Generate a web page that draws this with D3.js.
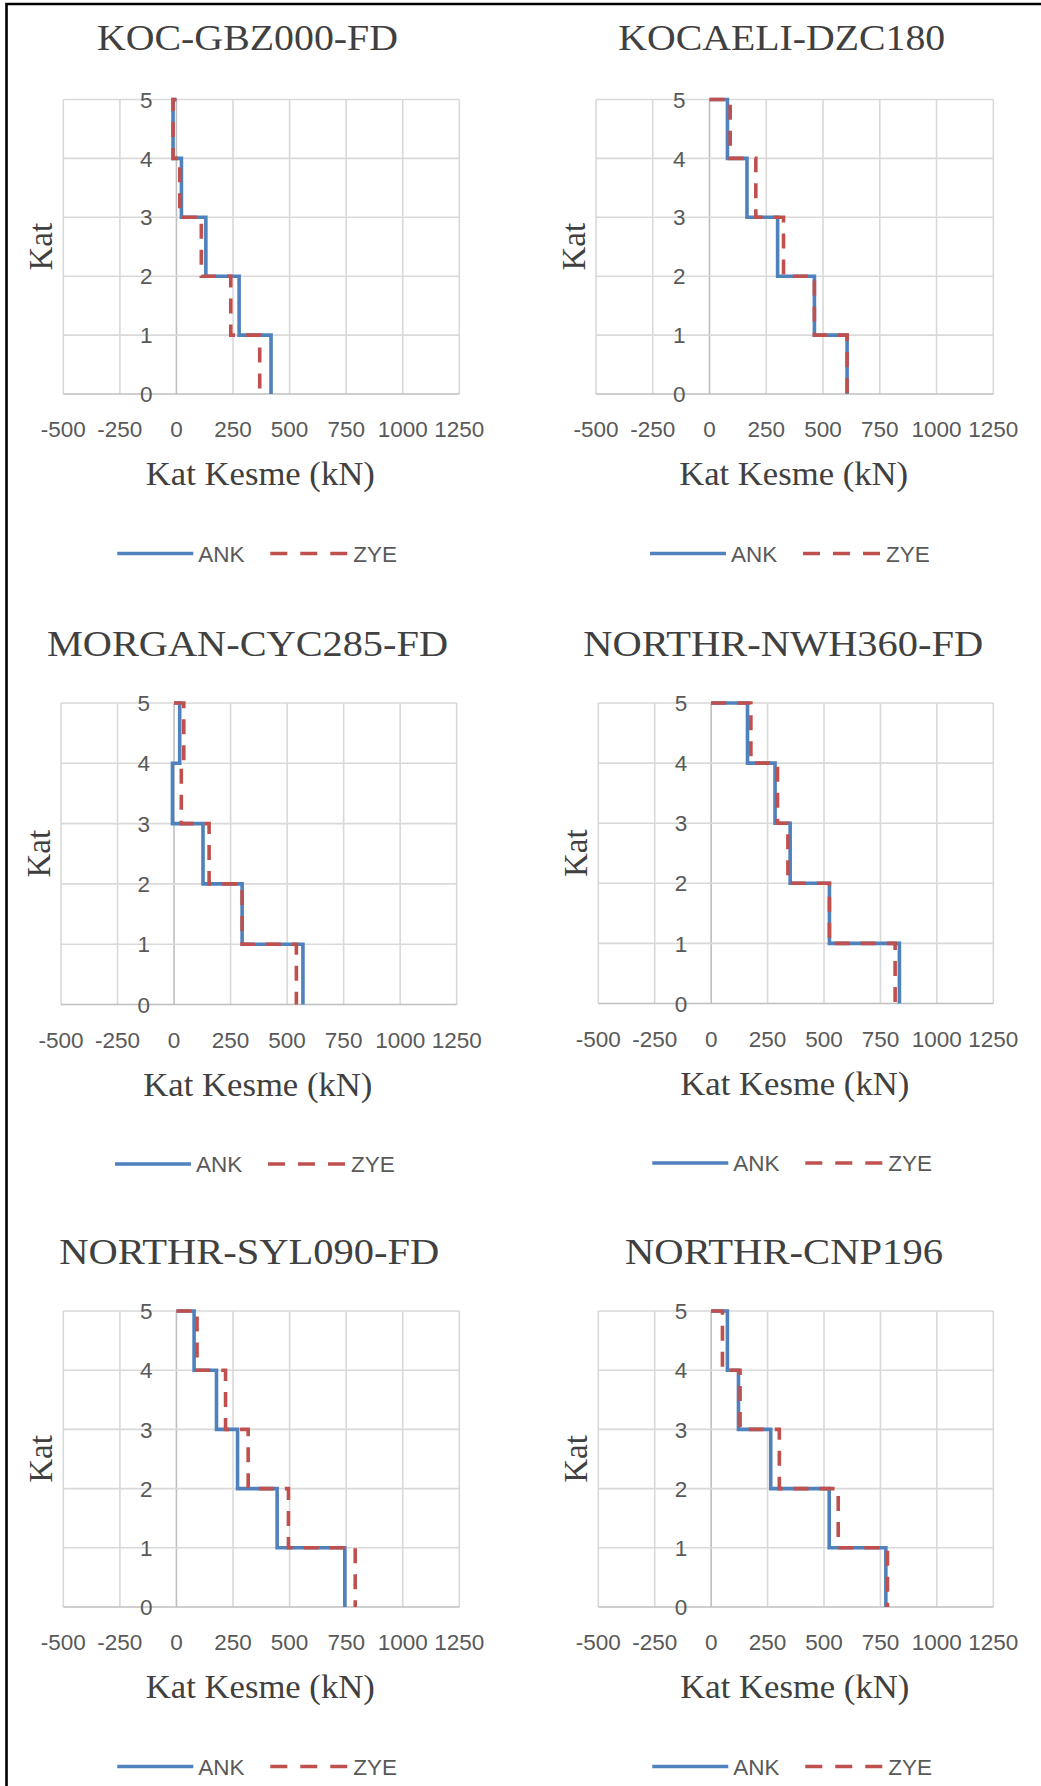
<!DOCTYPE html>
<html>
<head>
<meta charset="utf-8">
<script src="https://cdn.jsdelivr.net/npm/d3@7"></script>
<style>
  body { margin: 0; background: #fff; }
  svg { display: block; }
</style>
</head>
<body>
<svg id="fig" width="1041" height="1786"></svg>
<script>
// ---- data ----
const stories = [5, 4, 3, 2, 1];               // story number, top first
const xTicks = [-500, -250, 0, 250, 500, 750, 1000, 1250];
const yTicks = [0, 1, 2, 3, 4, 5];
const seriesNames = ["ANK", "ZYE"];
const recordTitles = [
  "KOC-GBZ000-FD", "KOCAELI-DZC180", "MORGAN-CYC285-FD",
  "NORTHR-NWH360-FD", "NORTHR-SYL090-FD", "NORTHR-CNP196"
];
const xAxisTitle = "Kat Kesme (kN)";
const yAxisTitle = "Kat";

// story shear (kN) per story, story 5 first
const ankKocGbz000     = [-15, 22, 130, 277, 418];
const zyeKocGbz000     = [-15, 15, 110, 240, 368];
const ankKocaeliDzc180 = [79, 165, 300, 462, 606];
const zyeKocaeliDzc180 = [91, 204, 326, 462, 606];
const ankMorganCyc285  = [25, -7, 128, 301, 570];
const zyeMorganCyc285  = [43, 32, 155, 301, 541];
const ankNorthrNwh360  = [161, 283, 350, 524, 834];
const zyeNorthrNwh360  = [176, 294, 340, 524, 815];
const ankNorthrSyl090  = [78, 177, 270, 445, 744];
const zyeNorthrSyl090  = [91, 217, 317, 495, 790];
const ankNorthrCnp196  = [72, 121, 264, 523, 774];
const zyeNorthrCnp196  = [50, 128, 302, 563, 781];

// ---- layout ----
const panels = [
  { title: recordTitles[0], ank: ankKocGbz000, zye: zyeKocGbz000,
    left: 63.3, right: 459.3, top: 99.5, bottom: 394, titleX: 247.5, titleY: 50, titleW: 301 },
  { title: recordTitles[1], ank: ankKocaeliDzc180, zye: zyeKocaeliDzc180,
    left: 596, right: 993.3, top: 99.5, bottom: 394, titleX: 781.7, titleY: 50, titleW: 327 },
  { title: recordTitles[2], ank: ankMorganCyc285, zye: zyeMorganCyc285,
    left: 61, right: 456.7, top: 703, bottom: 1004.5, titleX: 247.5, titleY: 656, titleW: 401 },
  { title: recordTitles[3], ank: ankNorthrNwh360, zye: zyeNorthrNwh360,
    left: 598.3, right: 993.3, top: 703, bottom: 1003.5, titleX: 783.3, titleY: 656, titleW: 400 },
  { title: recordTitles[4], ank: ankNorthrSyl090, zye: zyeNorthrSyl090,
    left: 63.3, right: 459.3, top: 1311, bottom: 1607, titleX: 249.3, titleY: 1264, titleW: 380 },
  { title: recordTitles[5], ank: ankNorthrCnp196, zye: zyeNorthrCnp196,
    left: 598.3, right: 993.3, top: 1311, bottom: 1607, titleX: 784, titleY: 1264, titleW: 318 }
];

const BLUE = "#4F81BD";
const RED = "#C0504D";
const GRID = "#D9D9D9";
const AXIS = "#BFBFBF";
const TICK_TXT = "#595959";
const TITLE_TXT = "#404040";
const SANS = "'Liberation Sans', Arial, sans-serif";
const SERIF = "'Liberation Serif', 'Times New Roman', serif";

const svg = d3.select("#fig");

// outer frame (left and top edges)
svg.append("path")
  .attr("d", "M6.5,1800 L6.5,4 L1045,4")
  .attr("fill", "none").attr("stroke", "#000").attr("stroke-width", 2.6);

// builds the stepped story-shear profile: start at roof (0,5), then step down story by story
function stepPoints(values) {
  const pts = [[0, stories[0]]];
  stories.forEach((s, i) => {
    pts.push([values[i], s]);
    pts.push([values[i], s - 1]);
  });
  return pts;
}

panels.forEach(p => {
  const x = d3.scaleLinear().domain([xTicks[0], xTicks[xTicks.length - 1]]).range([p.left, p.right]);
  const y = d3.scaleLinear().domain([0, 5]).range([p.bottom, p.top]);
  const g = svg.append("g");

  // gridlines
  g.append("g").selectAll("line").data(xTicks).join("line")
    .attr("x1", d => x(d)).attr("x2", d => x(d))
    .attr("y1", p.top).attr("y2", p.bottom)
    .attr("stroke", d => d === 0 ? AXIS : GRID).attr("stroke-width", 1.6);
  g.append("g").selectAll("line").data(yTicks).join("line")
    .attr("x1", p.left).attr("x2", p.right)
    .attr("y1", d => y(d)).attr("y2", d => y(d))
    .attr("stroke", d => d === 0 ? AXIS : GRID).attr("stroke-width", 1.6);

  // x tick labels
  g.append("g").selectAll("text").data(xTicks).join("text")
    .attr("x", d => x(d)).attr("y", p.bottom + 43)
    .attr("text-anchor", "middle")
    .attr("font-family", SANS).attr("font-size", 22.5).attr("fill", TICK_TXT)
    .text(d => d);

  // y tick labels, next to the vertical axis at x = 0
  g.append("g").selectAll("text").data(yTicks).join("text")
    .attr("x", x(0) - 24).attr("y", d => y(d))
    .attr("dy", "0.36em")
    .attr("text-anchor", "end")
    .attr("font-family", SANS).attr("font-size", 22.5).attr("fill", TICK_TXT)
    .text(d => d);

  // step lines
  const line = d3.line().x(d => x(d[0])).y(d => y(d[1]));
  g.append("path").attr("d", line(stepPoints(p.ank)))
    .attr("fill", "none").attr("stroke", BLUE).attr("stroke-width", 3.6)
    .attr("stroke-linejoin", "miter");
  g.append("path").attr("d", line(stepPoints(p.zye)))
    .attr("fill", "none").attr("stroke", RED).attr("stroke-width", 3.6)
    .attr("stroke-dasharray", "15,11").attr("stroke-linejoin", "miter");

  // chart title
  g.append("text")
    .attr("x", p.titleX).attr("y", p.titleY)
    .attr("text-anchor", "middle")
    .attr("font-family", SERIF).attr("font-size", 36).attr("fill", TITLE_TXT)
    .attr("textLength", p.titleW).attr("lengthAdjust", "spacingAndGlyphs")
    .text(p.title);

  // x axis title
  g.append("text")
    .attr("x", (p.left + p.right) / 2 - 1).attr("y", p.bottom + 91)
    .attr("text-anchor", "middle")
    .attr("font-family", SERIF).attr("font-size", 33).attr("fill", TITLE_TXT)
    .attr("textLength", 229).attr("lengthAdjust", "spacingAndGlyphs")
    .text(xAxisTitle);

  // y axis title
  g.append("text")
    .attr("transform", `translate(${p.left - 11},${(p.top + p.bottom) / 2}) rotate(-90)`)
    .attr("text-anchor", "middle")
    .attr("font-family", SERIF).attr("font-size", 33).attr("fill", TITLE_TXT)
    .text(yAxisTitle);

  // legend
  const ly = p.bottom + 159.5;
  const lg = g.append("g");
  lg.append("line")
    .attr("x1", p.left + 54).attr("x2", p.left + 130).attr("y1", ly).attr("y2", ly)
    .attr("stroke", BLUE).attr("stroke-width", 3.6);
  lg.append("text")
    .attr("x", p.left + 135).attr("y", ly).attr("dy", "0.36em")
    .attr("font-family", SANS).attr("font-size", 22.5).attr("fill", TICK_TXT)
    .text(seriesNames[0]);
  lg.append("line")
    .attr("x1", p.left + 207).attr("x2", p.left + 285).attr("y1", ly).attr("y2", ly)
    .attr("stroke", RED).attr("stroke-width", 3.6).attr("stroke-dasharray", "17,13");
  lg.append("text")
    .attr("x", p.left + 290).attr("y", ly).attr("dy", "0.36em")
    .attr("font-family", SANS).attr("font-size", 22.5).attr("fill", TICK_TXT)
    .text(seriesNames[1]);
});
</script>
</body>
</html>
